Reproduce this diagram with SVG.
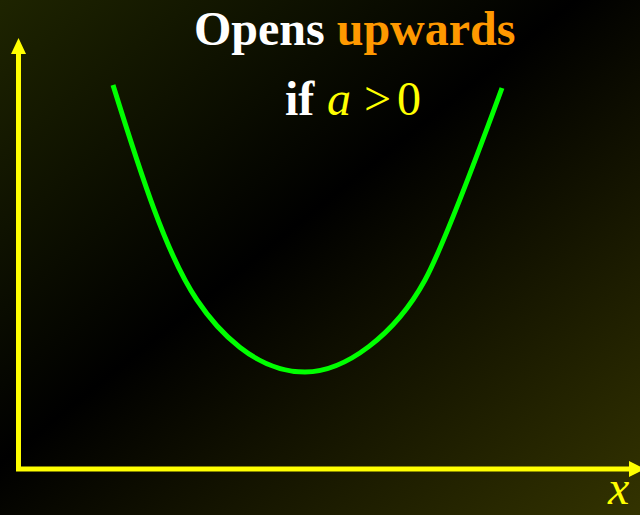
<svg xmlns="http://www.w3.org/2000/svg" width="640" height="515" viewBox="0 0 640 515">
  <defs>
    <linearGradient id="bg" x1="0" y1="0" x2="1" y2="1">
      <stop offset="0" stop-color="#1e2400"/>
      <stop offset="0.45" stop-color="#000000"/>
      <stop offset="1" stop-color="#333300"/>
    </linearGradient>
    <style>
      .axis { stroke: #FFFF00; stroke-width: 5; fill: none; }
      .head { fill: #FFFF00; }
      .curve { stroke: #00FF00; stroke-width: 5; fill: none; }
      .t { font-family: "Liberation Serif", "Times New Roman", serif; font-size: 48px; }
      .b { font-weight: bold; }
      .i { font-style: italic; }
    </style>
  </defs>
  <rect x="0" y="0" width="640" height="515" fill="url(#bg)"/>
  <g id="connectors">
    <path class="axis" d="M18.5,52 L18.5,469 L632,469"/>
    <polygon class="head" points="18.5,38 26,54 11,54"/>
    <polygon class="head" points="645,469 629,461 629,477"/>
  </g>
  <g id="parabola">
    <path class="curve" d="M113,85 C141,175 166.6,255 197,300 C217,330 255,372 305,372 C345,372 395,335 425,280 C445,243 480,148 502,88"/>
  </g>
  <g id="title">
    <text class="t b" x="194" y="45"><tspan fill="#FFFFFF">Opens </tspan><tspan fill="#FF9900">upwards</tspan></text>
  </g>
  <g id="condition">
    <text class="t b" x="285" y="115" fill="#FFFFFF">if</text>
    <text class="t i" x="327" y="115" fill="#FFFF00">a</text>
    <text class="t" x="364" y="115" fill="#FFFF00">&gt;</text>
    <text class="t" x="397" y="115" fill="#FFFF00">0</text>
  </g>
  <g id="x-label">
    <text class="t i" x="608" y="504" fill="#FFFF00">x</text>
  </g>
</svg>
